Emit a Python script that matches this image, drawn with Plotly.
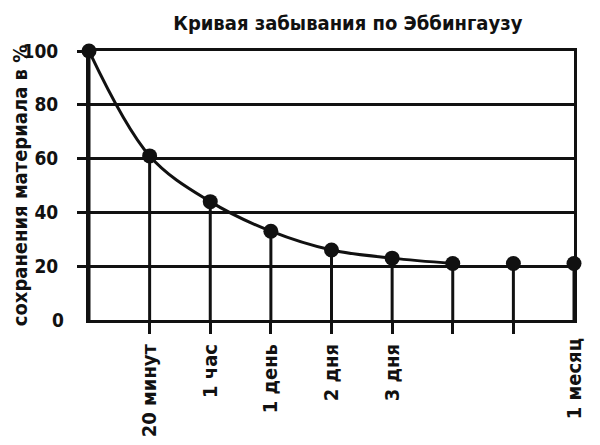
import plotly.graph_objects as go

# ---- data ----
positions = [0, 1, 2, 3, 4, 5, 6, 7, 8]
categories = ["", "20 минут", "1 час", "1 день", "2 дня", "3 дня", "", "", "1 месяц"]
retention = [100, 61, 44, 33, 26, 23, 21, 21, 21]
curve_count = 7  # curve drawn through first 7 points
y_ticks = [20, 40, 60, 80, 100]
title_text = "Кривая забывания по Эббингаузу"
y_title = "сохранения материала в %"

FONT = "DejaVu Sans Condensed"
INK = "#111111"

fig = go.Figure()

# drop lines from points to axis
dx, dy = [], []
for x, v in zip(positions, retention):
    dx += [x, x, None]
    dy += [v, 0, None]
fig.add_trace(go.Scatter(x=dx, y=dy, mode="lines",
                         line=dict(color=INK, width=3),
                         hoverinfo="skip", showlegend=False, cliponaxis=False))

# smooth curve
fig.add_trace(go.Scatter(x=positions[:curve_count], y=retention[:curve_count],
                         mode="lines", line=dict(color=INK, width=3, shape="spline", smoothing=1.0),
                         showlegend=False, cliponaxis=False))

# markers
fig.add_trace(go.Scatter(x=positions, y=retention, mode="markers",
                         marker=dict(color=INK, size=15),
                         showlegend=False, cliponaxis=False))

# invisible trace for secondary axes (labels without ticks)
fig.add_trace(go.Scatter(x=[positions[-1]], y=[0], mode="markers",
                         marker=dict(opacity=0), xaxis="x2", yaxis="y2",
                         showlegend=False, hoverinfo="skip"))

x_tick_font = dict(family=FONT, size=20, color=INK, weight="bold")
y_tick_font = dict(family=FONT, size=19, color=INK, weight="bold")

# the page body adds an 8px offset, so the figure is sized 8px smaller
fig.update_layout(
    width=592, height=437,
    margin=dict(l=81, r=26, t=43, b=125),
    paper_bgcolor="white", plot_bgcolor="white",
    title=dict(text=title_text, x=0.574, xanchor="center", y=0.966, yanchor="middle",
               font=dict(family=FONT, size=20, color=INK, weight="bold")),
    xaxis=dict(range=[0, 8], tickvals=positions[1:8], ticktext=categories[1:8],
               tickangle=-90, ticks="outside", ticklen=11, tickwidth=3, tickcolor=INK,
               ticklabelstandoff=2, automargin=False,
               showline=True, linewidth=3, linecolor=INK, mirror=True,
               showgrid=False, zeroline=False, tickfont=x_tick_font, fixedrange=True),
    xaxis2=dict(range=[0, 8], overlaying="x", anchor="y", side="bottom",
                tickvals=[positions[-1]], ticktext=[categories[-1]], tickangle=-90,
                ticks="", ticklabelstandoff=13, showline=False, showgrid=False,
                zeroline=False, tickfont=x_tick_font, automargin=False),
    yaxis=dict(range=[0, 100], tickvals=y_ticks, ticktext=[str(t) for t in y_ticks],
               ticksuffix="\u00a0",
               ticks="outside", ticklen=9, tickwidth=3, tickcolor=INK,
               ticklabelstandoff=15, automargin=False,
               showline=True, linewidth=3, linecolor=INK, mirror=True,
               showgrid=True, gridcolor=INK, gridwidth=3, zeroline=False,
               tickfont=y_tick_font,
               title=dict(text=y_title, standoff=5,
                          font=dict(family=FONT, size=20, color=INK, weight="bold"))),
    yaxis2=dict(range=[0, 100], overlaying="y", anchor="x", side="left",
                tickvals=[0], ticktext=["0"], ticksuffix="\u00a0", ticks="",
                ticklabelstandoff=24,
                showline=False, showgrid=False, zeroline=False, tickfont=y_tick_font,
                automargin=False),
)

fig.write_html("out.html")
